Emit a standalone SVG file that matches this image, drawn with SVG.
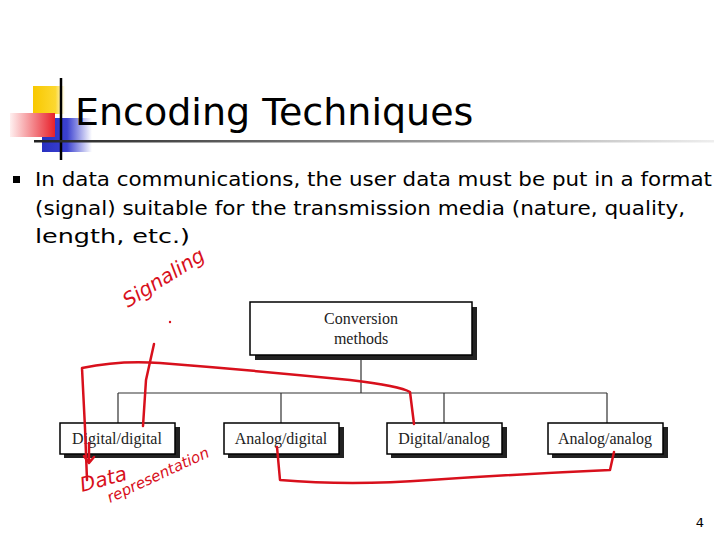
<svg xmlns="http://www.w3.org/2000/svg" width="720" height="540" viewBox="0 0 720 540">
<defs>
<linearGradient id="rg" x1="0" x2="1"><stop offset="0" stop-color="#fff0f0"/><stop offset="1" stop-color="#e8202a"/></linearGradient>
<linearGradient id="bg" x1="0" x2="1"><stop offset="0" stop-color="#2830c0"/><stop offset="0.5" stop-color="#3a40d0"/><stop offset="1" stop-color="#fff"/></linearGradient>
<linearGradient id="yg" x1="0" x2="1"><stop offset="0" stop-color="#f8c800"/><stop offset="0.7" stop-color="#fcd830"/><stop offset="1" stop-color="#fff"/></linearGradient>
<linearGradient id="lg" x1="0" x2="1"><stop offset="0" stop-color="#222"/><stop offset="1" stop-color="#eee"/></linearGradient>
<style>
.box{fill:#fff;stroke:#000;stroke-width:1.5}
.sh{fill:#222}
.bt{font-family:"Liberation Serif",serif;font-size:16px;text-anchor:middle;fill:#222}
.ln{stroke:#333;stroke-width:1.2;fill:none}
.body{font-family:"DejaVu Sans",sans-serif;font-size:19px;fill:#000}
.red{stroke:#d8101c;stroke-width:2.5;fill:none;stroke-linecap:round;stroke-linejoin:round}
.hw{font-family:"DejaVu Sans",sans-serif;font-style:italic;fill:#d8101c}
</style>
</defs>
<rect width="720" height="540" fill="#fff"/>
<g id="logo">
<rect x="33" y="86" width="32" height="28" fill="url(#yg)"/>
<rect x="42" y="118" width="50" height="34" fill="url(#bg)"/>
<rect x="10" y="113" width="45" height="24" fill="url(#rg)"/>
<line x1="61" y1="78" x2="61" y2="160" stroke="#000" stroke-width="2.5"/>
<rect x="34" y="140" width="680" height="2.5" fill="url(#lg)"/>
</g>
<text x="75" y="125" font-family="DejaVu Sans,sans-serif" font-size="38" fill="#000">Encoding Techniques</text>
<rect x="13" y="176" width="7" height="7" fill="#000"/>
<text class="body" x="35" y="186" textLength="677" lengthAdjust="spacingAndGlyphs">In data communications, the user data must be put in a format</text>
<text class="body" x="35" y="215" textLength="650" lengthAdjust="spacingAndGlyphs">(signal) suitable for the transmission media (nature, quality,</text>
<text class="body" x="35" y="243" textLength="155" lengthAdjust="spacingAndGlyphs">length, etc.)</text>
<g id="connectors">
<path class="ln" d="M361 355V393M118 393H607M118 393V423M281 393V423M444 393V423M607 393V423"/>
</g>
<g id="n-conv"><rect class="sh" x="255" y="307" width="222" height="53"/><rect class="box" x="250" y="302" width="222" height="53"/><text class="bt" x="361" y="324">Conversion</text><text class="bt" x="361" y="344">methods</text></g>
<g id="n-dd"><rect class="sh" x="64" y="427" width="116" height="31"/><rect class="box" x="60" y="423" width="115" height="31"/><text class="bt" x="117" y="444">Digital/digital</text></g>
<g id="n-ad"><rect class="sh" x="228" y="427" width="116" height="31"/><rect class="box" x="224" y="423" width="115" height="31"/><text class="bt" x="281" y="444">Analog/digital</text></g>
<g id="n-da"><rect class="sh" x="391" y="427" width="116" height="31"/><rect class="box" x="387" y="423" width="115" height="31"/><text class="bt" x="444" y="444">Digital/analog</text></g>
<g id="n-aa"><rect class="sh" x="552" y="427" width="116" height="31"/><rect class="box" x="548" y="423" width="115" height="31"/><text class="bt" x="605" y="444">Analog/analog</text></g>
<g id="annotations">
<path class="red" d="M87 480L85 428L82 368Q120 360 160 363Q250 370 350 380Q400 386 410 392L414 424"/>
<path class="red" d="M154 344L146 380L143 426"/>
<path class="red" d="M89 443L89 462M84 456L89 463L94 457"/>
<path class="red" d="M277 447L280 480Q350 486 430 480Q520 474 610 470L614 452"/>
<circle cx="170" cy="322" r="1.2" fill="#d8101c"/>
<text class="hw" x="128" y="308" font-size="20" transform="rotate(-32 128 308)">Signaling</text>
<text class="hw" x="82" y="492" font-size="20" transform="rotate(-15 82 492)">Data</text>
<text class="hw" x="110" y="503" font-size="15" transform="rotate(-25 110 503)">representation</text>
</g>
<text x="700" y="527" font-family="DejaVu Sans,sans-serif" font-size="13" text-anchor="middle">4</text>
</svg>
